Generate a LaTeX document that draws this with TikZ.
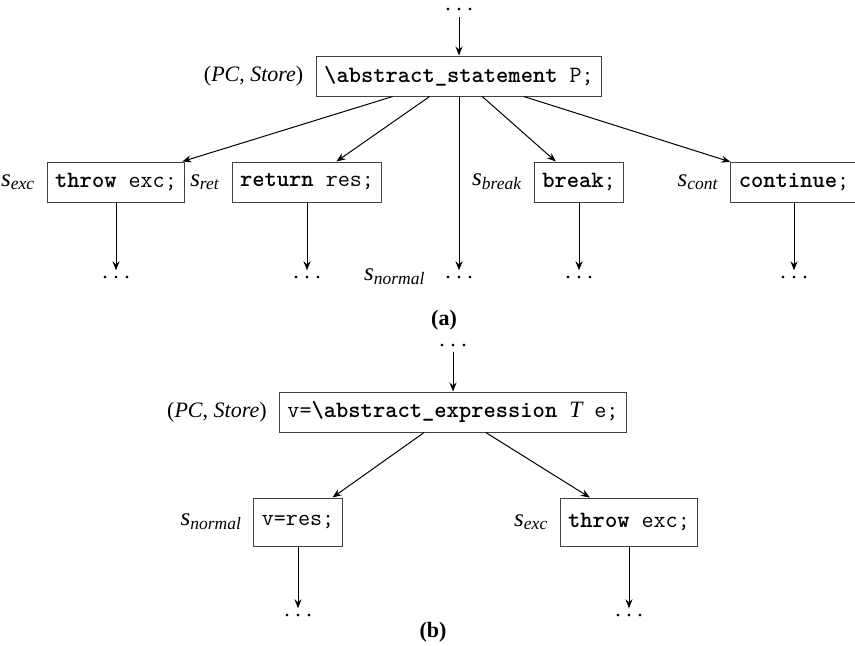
\documentclass[tikz,border=0pt]{standalone}
\usepackage{fontspec}
\setmainfont{Liberation Serif}
\usepackage{tikz}
\usetikzlibrary{positioning}
\usetikzlibrary{arrows.meta}

\newcommand{\codefont}{\fontsize{11.7}{14}\selectfont\ttfamily}
\newcommand{\labfont}{\fontsize{11}{13}\selectfont}
\newcommand{\sfnt}{\fontsize{12.5}{14}\selectfont}
\newcommand{\sv}[1]{{\sfnt\textit{s}\textsubscript{\textit{#1}}}}
\newcommand{\vdts}{.\hspace{0.25em}.\hspace{0.25em}.}

\tikzset{
  stmtbox/.style={draw=black!75, line width=0.5pt, inner xsep=4pt, minimum height=20pt, font=\codefont},
  dotsnode/.style={inner sep=2.5pt, font=\labfont},
  lbl/.style={font=\labfont, inner sep=0pt},
  flow/.style={-{Stealth[length=4.5pt,width=3.5pt]}, line width=0.5pt},
}

\begin{document}
\begin{tikzpicture}[x=0.5pt, y=-0.5pt]
\useasboundingbox (0,0) rectangle (855,645);
% (a)
\node[dotsnode] (topA) at (459,10) {\vdts};
\node[stmtbox] (stmtA) at (459,76) {\textbf{\textbackslash abstract\_statement} P;};
\node[lbl, left=6pt of stmtA] (pcA) {(\textit{PC}, \textit{Store})};
\node[stmtbox] (throwA) at (116,182) {\textbf{throw} exc;};
\node[stmtbox] (retA) at (307,182) {\textbf{return} res;};
\node[stmtbox] (breakA) at (579,182) {\textbf{break};};
\node[stmtbox] (contA) at (794,182) {\textbf{continue};};
\node[lbl, left=5.5pt of throwA] (sexcA) {\sv{exc}};
\node[lbl, left=5.5pt of retA] (sretA) {\sv{ret}};
\node[lbl, left=5.5pt of breakA] (sbreakA) {\sv{break}};
\node[lbl, left=5.5pt of contA] (scontA) {\sv{cont}};
\node[dotsnode] (dthrowA) at (116,277) {\vdts};
\node[dotsnode] (dretA) at (307,277) {\vdts};
\node[dotsnode] (dnormA) at (459,277) {\vdts};
\node[dotsnode] (dbreakA) at (579,277) {\vdts};
\node[dotsnode] (dcontA) at (794,277) {\vdts};
\node[lbl, left=7pt of dnormA] (snormA) {\sv{normal}};
\node[lbl] (capA) at (444,320) {\textbf{(a)}};
\draw[flow] (topA) -- (stmtA);
\foreach \n in {throwA,retA,breakA,contA}
  \draw[flow] (stmtA) -- (\n);
\draw[flow] (stmtA) -- (dnormA);
\foreach \n/\d in {throwA/dthrowA,retA/dretA,breakA/dbreakA,contA/dcontA}
  \draw[flow] (\n) -- (\d);
% (b)
\node[dotsnode] (topB) at (453,345) {\vdts};
\node[stmtbox] (exprB) at (453,412) {v=\textbf{\textbackslash abstract\_expression} {\rmfamily\itshape T} e;};
\node[lbl, left=6pt of exprB] (pcB) {(\textit{PC}, \textit{Store})};
\node[stmtbox, minimum height=24pt] (normB) at (298,522) {v=res;};
\node[stmtbox, minimum height=24pt] (throwB) at (629,522) {\textbf{throw} exc;};
\node[lbl, left=5.5pt of normB] (snormB) {\sv{normal}};
\node[lbl, left=5.5pt of throwB] (sexcB) {\sv{exc}};
\node[dotsnode] (dnormB) at (298,615) {\vdts};
\node[dotsnode] (dthrowB) at (629,615) {\vdts};
\node[lbl] (capB) at (433,632) {\textbf{(b)}};
\draw[flow] (topB) -- (exprB);
\draw[flow] (exprB) -- (normB);
\draw[flow] (exprB) -- (throwB);
\draw[flow] (normB) -- (dnormB);
\draw[flow] (throwB) -- (dthrowB);
\end{tikzpicture}
\end{document}
